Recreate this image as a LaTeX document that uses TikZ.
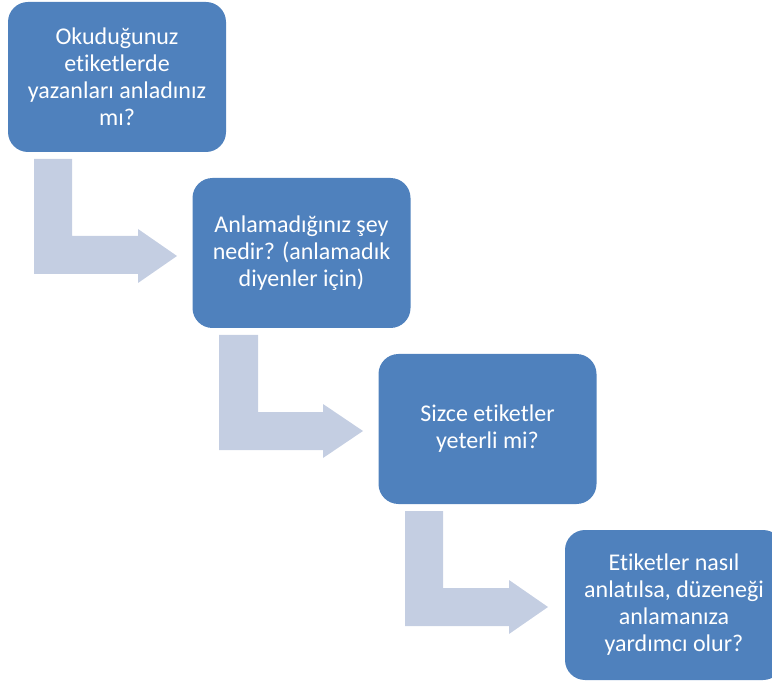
\documentclass[tikz,border=0pt]{standalone}
\usepackage{fontspec}
\setmainfont[Ligatures={NoCommon}]{Carlito}
\definecolor{boxblue}{RGB}{79,129,189}
\definecolor{arrowgray}{RGB}{196,206,226}
\begin{document}
\begin{tikzpicture}[x=1pt,y=-1pt,
  qbox/.style={fill=boxblue, rounded corners=20pt, minimum width=218pt, minimum height=150pt,
    align=center, text=white, inner sep=0pt,
    font=\fontsize{24}{27}\selectfont},
  bentarrow/.style={fill=arrowgray, draw=none}]
\useasboundingbox (0,0) rectangle (772,687);
\clip (0,0) rectangle (772,687);
\node[qbox] (b1) at (117,77) {Okuduğunuz\\ etiketlerde\\ yazanları anladınız\\ mı?};
\node[qbox] (b2) at (301.5,253) {Anlamadığınız şey\\ nedir? (anlamadık\\ diyenler için)};
\node[qbox] (b3) at (487.5,429) {Sizce etiketler\\ yeterli mi?};
\node[qbox] (b4) at (674,605) {Etiketler nasıl\\ anlatılsa, düzeneği\\ anlamanıza\\ yardımcı olur?};
% bent arrows
\fill[bentarrow] (34,159) -- (72,159) -- (72,236) -- (138,236) -- (138,229) -- (177,256)
  -- (138,283) -- (138,274) -- (34,274) -- cycle;
\fill[bentarrow] (219,335) -- (258,335) -- (258,412) -- (323,412) -- (323,404) -- (363,431)
  -- (323,458) -- (323,450) -- (219,450) -- cycle;
\fill[bentarrow] (405,511) -- (443,511) -- (443,588) -- (509,588) -- (509,580) -- (548,607)
  -- (509,634) -- (509,626) -- (405,626) -- cycle;
\end{tikzpicture}
\end{document}
